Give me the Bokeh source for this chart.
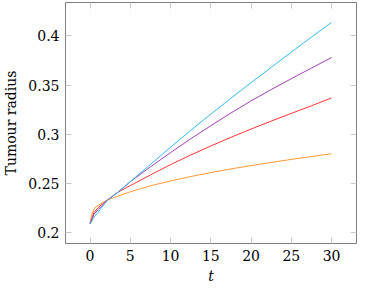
from bokeh.plotting import figure
from bokeh.models import LinearAxis, FixedTicker, Range1d
from bokeh.embed import file_html
from bokeh.resources import INLINE

# Data
t_cyan = [0, 0.5, 1, 2.2, 3.5, 5, 7.5, 10, 12.5, 15, 17.5, 20, 22.5, 25, 27.5, 30]
r_cyan = [0.209, 0.216, 0.221, 0.2335, 0.2415, 0.252, 0.2695, 0.287, 0.304, 0.3205, 0.3367,
          0.3525, 0.368, 0.3835, 0.3987, 0.4137]

t_purple = [0, 0.5, 1, 2.2, 3.5, 5, 7.5, 10, 12.5, 15, 17.5, 20, 22.5, 25, 27.5, 30]
r_purple = [0.209, 0.219, 0.2235, 0.2337, 0.2415, 0.252, 0.267, 0.2815, 0.2955, 0.3088, 0.3217,
            0.334, 0.3455, 0.3565, 0.3673, 0.378]

t_red = [0, 0.5, 1, 2.2, 3.5, 5, 7.5, 10, 12.5, 15, 17.5, 20, 22.5, 25, 27.5, 30]
r_red = [0.2095, 0.221, 0.2255, 0.2337, 0.2415, 0.248, 0.2588, 0.2693, 0.279, 0.2882, 0.297,
         0.3054, 0.3135, 0.3213, 0.329, 0.337]

t_orange = [0, 0.2, 0.5, 1, 2.2, 3.5, 5, 6.5, 8, 10, 12.5, 15, 17.5, 20, 22.5, 25, 27.5, 30]
r_orange = [0.210, 0.218, 0.2245, 0.228, 0.2335, 0.2374, 0.2417, 0.2454, 0.2488, 0.2527, 0.2572,
            0.2612, 0.2649, 0.2683, 0.2715, 0.2746, 0.2775, 0.2803]

x_ticks = [0, 5, 10, 15, 20, 25, 30]
y_ticks = [0.2, 0.25, 0.3, 0.35, 0.4]
y_tick_labels = {0.2: "0.2", 0.25: "0.25", 0.3: "0.3", 0.35: "0.35", 0.4: "0.4"}

series = [
    (t_orange, r_orange, "#ff9933"),
    (t_red, r_red, "#ff3333"),
    (t_purple, r_purple, "#a040b0"),
    (t_cyan, r_cyan, "#33bbee"),
]

FONT = "DejaVu Serif"
FS = "14px"

p = figure(width=358, height=286, output_backend="svg", toolbar_location=None,
           x_range=Range1d(-3.05, 33.1), y_range=Range1d(0.1892, 0.4339),
           min_border_left=56, min_border_right=2, min_border_top=2, min_border_bottom=40)
p.background_fill_color = "white"
p.border_fill_color = "white"
p.outline_line_color = "#808080"
p.outline_line_width = 1
p.grid.visible = False

for t, r, c in series:
    p.line(t, r, line_color=c, line_width=1)

def style_axis(ax, ticks, show_labels):
    ax.ticker = FixedTicker(ticks=ticks)
    ax.major_tick_in = 6
    ax.major_tick_out = 0
    ax.minor_tick_line_color = None
    ax.major_tick_line_color = "#c8c8c8"
    ax.axis_line_color = None
    ax.major_label_text_font = FONT
    ax.major_label_text_font_size = FS
    ax.major_label_text_color = "black" if show_labels else None
    ax.major_label_standoff = 6

style_axis(p.xaxis[0], x_ticks, True)
style_axis(p.yaxis[0], y_ticks, True)
p.yaxis[0].major_label_overrides = y_tick_labels
p.xaxis[0].axis_label = "t"
p.xaxis[0].axis_label_text_font = FONT
p.xaxis[0].axis_label_text_font_style = "italic"
p.xaxis[0].axis_label_text_font_size = FS
p.xaxis[0].axis_label_text_color = "black"
p.xaxis[0].axis_label_standoff = 4
p.yaxis[0].axis_label = "Tumour radius"
p.yaxis[0].axis_label_text_font = FONT
p.yaxis[0].axis_label_text_font_style = "normal"
p.yaxis[0].axis_label_text_font_size = FS
p.yaxis[0].axis_label_text_color = "black"
p.yaxis[0].axis_label_standoff = 6

top = LinearAxis()
style_axis(top, x_ticks, False)
top.major_label_text_font_size = "0px"
top.major_label_standoff = 0
p.add_layout(top, "above")
right = LinearAxis()
style_axis(right, y_ticks, False)
right.major_label_text_font_size = "0px"
right.major_label_standoff = 0
p.add_layout(right, "right")

open("out.html", "w").write(file_html(p, INLINE))
